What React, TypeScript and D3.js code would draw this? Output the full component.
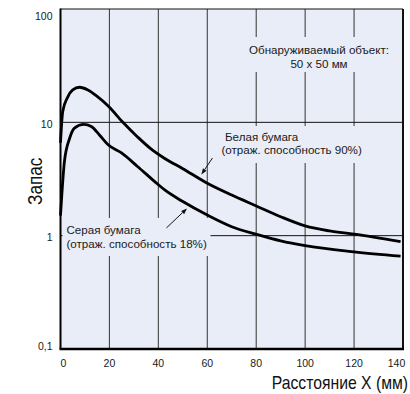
import React from 'react';
import * as d3 from 'd3';

// расстояние X (мм) -> запас
const whitePaper: [number, number][] = [
  [0, 6.6], [0.9, 12.4], [3.0, 16.8], [5.0, 19.3], [7.8, 20.4], [11.2, 19.3],
  [14.6, 17.2], [19.7, 13.8], [25.5, 10.0], [31.6, 7.4], [37.1, 5.8], [42.6, 4.8],
  [50, 3.9], [60, 2.9], [70, 2.28], [80, 1.83], [90, 1.47], [100, 1.22],
  [110, 1.1], [120, 1.03], [139, 0.885],
];
const grayPaper: [number, number][] = [
  [0, 1.5], [1.6, 4.5], [3.7, 7.2], [5.7, 8.9], [9.5, 9.6], [12.6, 9.2],
  [16, 7.7], [19.6, 6.3], [24.8, 5.4], [31.6, 4.06], [38.5, 3.0], [42.6, 2.53],
  [50, 2.0], [60, 1.52], [70, 1.2], [80, 1.03], [90, 0.9], [100, 0.816],
  [120, 0.72], [139, 0.66],
];

const xTicks = [0, 20, 40, 60, 80, 100, 120, 140];
const yTicks = [0.1, 1, 10, 100];
const yTickLabels = ['0,1', '1', '10', '100'];

const xTitle = 'Расстояние X (мм)';
const yTitle = 'Запас';
const objectNote = ['Обнаруживаемый объект:', '50 x 50 мм'];
const whiteNote = ['Белая бумага', '(отраж. способность 90%)'];
const grayNote = ['Серая бумага', '(отраж. способность 18%)'];

const W = 410;
const H = 394;
const left = 60.5, right = 403, top = 9, bottom = 349;
const bg = '#e9edf7';
const font = '"Liberation Sans", Arial, sans-serif';

export default function App() {
  const x = d3.scaleLinear().domain([0, 140]).range([left, right]);
  const y = d3.scaleLog().domain([0.1, 100]).range([bottom, top]);

  const line = d3.line<[number, number]>()
    .x(d => x(d[0]))
    .y(d => y(d[1]))
    .curve(d3.curveMonotoneX);

  // стрелка: хвост -> острие, в координатах данных
  const arrow = (tail: [number, number], tip: [number, number], key: string) => {
    const x1 = x(tail[0]), y1 = y(tail[1]);
    const x2 = x(tip[0]), y2 = y(tip[1]);
    const a = Math.atan2(y2 - y1, x2 - x1);
    const len = 6, w = 2.2;
    const bx = x2 - len * Math.cos(a), by = y2 - len * Math.sin(a);
    const p1 = [bx + w * Math.sin(a), by - w * Math.cos(a)];
    const p2 = [bx - w * Math.sin(a), by + w * Math.cos(a)];
    return (
      <g key={key}>
        <line x1={x1} y1={y1} x2={bx} y2={by} stroke="#111" strokeWidth={1} />
        <polygon points={`${x2},${y2} ${p1[0]},${p1[1]} ${p2[0]},${p2[1]}`} fill="#111" />
      </g>
    );
  };

  return (
    <svg width={W} height={H} style={{ position: 'absolute', left: 0, top: 0 }} fontFamily={font}>
      <rect x={left} y={top} width={right - left} height={bottom - top} fill={bg} />

      {/* сетка */}
      {xTicks.slice(1, -1).map(t => (
        <line key={'gx' + t} x1={x(t)} x2={x(t)} y1={top} y2={bottom} stroke="#444" strokeWidth={1.1} />
      ))}
      {[1, 10].map(t => (
        <line key={'gy' + t} x1={left} x2={right} y1={y(t)} y2={y(t)} stroke="#111" strokeWidth={1} />
      ))}

      {/* подложки под подписи */}
      <rect x={245} y={37} width={148} height={35} fill={bg} />
      <rect x={217} y={126} width={154} height={37} fill={bg} />
      <rect x={62.5} y={218} width={148} height={38} fill={bg} />

      <path d={line(grayPaper) || ''} fill="none" stroke="#000" strokeWidth={2.8} strokeLinejoin="round" />
      <path d={line(whitePaper) || ''} fill="none" stroke="#000" strokeWidth={2.8} strokeLinejoin="round" />

      <g fontSize={11.6} fill="#1a1a1a">
        <text x={319} y={54} textAnchor="middle">{objectNote[0]}</text>
        <text x={319} y={67.5} textAnchor="middle">{objectNote[1]}</text>
        <text x={225} y={141}>{whiteNote[0]}</text>
        <text x={221.5} y={153.5}>{whiteNote[1]}</text>
        <text x={66.5} y={233.5}>{grayNote[0]}</text>
        <text x={66.5} y={247.5}>{grayNote[1]}</text>
      </g>

      {arrow([62.1, 4.84], [57.6, 3.47], 'aw')}
      {arrow([43.3, 1.17], [51.7, 1.74], 'ag')}

      {/* рамка */}
      <line x1={left} x2={right} y1={top} y2={top} stroke="#111" strokeWidth={1} />
      <line x1={right} x2={right} y1={top} y2={bottom} stroke="#111" strokeWidth={2} />
      <line x1={left} x2={left} y1={top - 0.5} y2={bottom} stroke="#000" strokeWidth={2} />
      <line x1={left - 1} x2={right + 1} y1={bottom} y2={bottom} stroke="#000" strokeWidth={2.5} />

      {/* подписи осей */}
      <g fontSize={10.5} fill="#1a1a1a">
        {xTicks.map(t => (
          <text key={'tx' + t} x={Math.min(396.5, Math.max(63.5, x(t)))} y={367} textAnchor="middle">{t}</text>
        ))}
        {yTicks.map((t, i) => (
          <text key={'ty' + t} x={52.5} y={Math.min(346, Math.max(16, y(t) + 2))} dy="0.35em" textAnchor="end">
            {yTickLabels[i]}
          </text>
        ))}
      </g>

      <text transform="translate(408,389) scale(0.9,1)" textAnchor="end" fontSize={17.5} fill="#111">{xTitle}</text>
      <text transform="translate(41.5,205) rotate(-90) scale(0.86,1)" fontSize={20} fill="#111">{yTitle}</text>
    </svg>
  );
}
